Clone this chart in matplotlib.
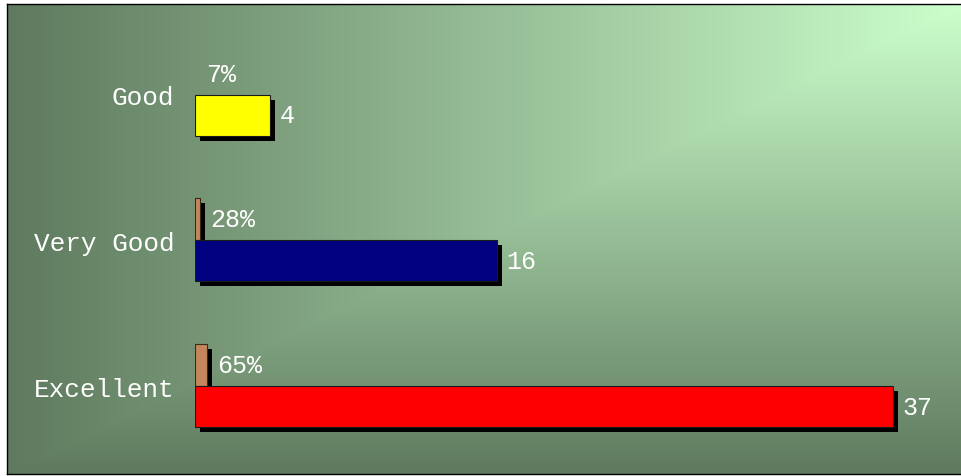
import numpy as np
import matplotlib
matplotlib.use("Agg")
import matplotlib.pyplot as plt
import matplotlib.patheffects as pe

# chart data
categories = ["Good", "Very Good", "Excellent"]
counts = [4, 16, 37]
percents = [7, 28, 65]
bar_colors = ["#ffff00", "#000080", "#ff0000"]

W, H = 961, 477
fig = plt.figure(figsize=(W / 100, H / 100), dpi=100)
fig.patch.set_facecolor("white")

# background frame: px 7..961 horizontally, 5..475 vertically
bg = fig.add_axes([7 / W, 2 / H, 954 / W, 470 / H])
bg.set_xlim(0, 1)
bg.set_ylim(0, 1)

# corner gradient: dark on the left and bottom, light in the upper right
gx = np.linspace(0, 1, 480)
gy = np.linspace(0, 1, 240)
X, Y = np.meshgrid(gx, gy)
t = np.minimum(X, Y)
dark = np.array([0x5f, 0x7a, 0x5f]) / 255
light = np.array([0xcc, 0xff, 0xcc]) / 255
img = dark + t[..., None] * (light - dark)
bg.imshow(img, extent=[0, 1, 0, 1], origin="lower", aspect="auto",
          interpolation="bilinear", zorder=0)
bg.set_xticks([])
bg.set_yticks([])
for s in bg.spines.values():
    s.set_color("black")
    s.set_linewidth(1)
bg.spines["right"].set_visible(False)

# bar area: value 0 sits at px 195
ax = fig.add_axes([195 / W, 2 / H, 766 / W, 470 / H])
ax.set_facecolor("none")
ax.set_xlim(0, 40.6)
ax.set_ylim(-0.463, 2.763)
for s in ax.spines.values():
    s.set_visible(False)

ys = np.array([2, 1, 0], dtype=float)
bh = 0.28
shadow = [pe.withSimplePatchShadow(offset=(3.6, -3.6), shadow_rgbFace="black", alpha=1.0)]

font = "Liberation Mono"

# small copper bars showing the share, sitting on top of each main bar
for y, p in zip(ys, percents):
    w = p / 100
    yc = y + bh / 2 + 0.145
    # the original renderer drops shares thinner than their border
    if w * 18.85 >= 2:
        ax.barh(yc, w, height=0.29, color="#c4875c",
                edgecolor="#3a2a18", linewidth=0.8, zorder=2, path_effects=shadow)
    ax.annotate(f"{p}%", (w, yc), xytext=(7, 0),
                textcoords="offset points", ha="left", va="center",
                color="white", fontsize=18, family=font, zorder=5)

bars = ax.barh(ys, counts, height=bh, color=bar_colors, edgecolor="#1a1a1a",
               linewidth=0.8, zorder=3)
for b in bars:
    b.set_path_effects(shadow)

for y, v in zip(ys, counts):
    ax.annotate(str(v), (v, y), xytext=(6.5, 0), textcoords="offset points",
                ha="left", va="center", color="white", fontsize=18,
                family=font, zorder=5)

ax.set_yticks(ys + bh / 2)
ax.set_yticklabels(categories, family=font, fontsize=18.8, color="white")
ax.tick_params(axis="y", length=0, pad=15)
ax.set_xticks([])

fig.savefig("out.png", dpi=100)
